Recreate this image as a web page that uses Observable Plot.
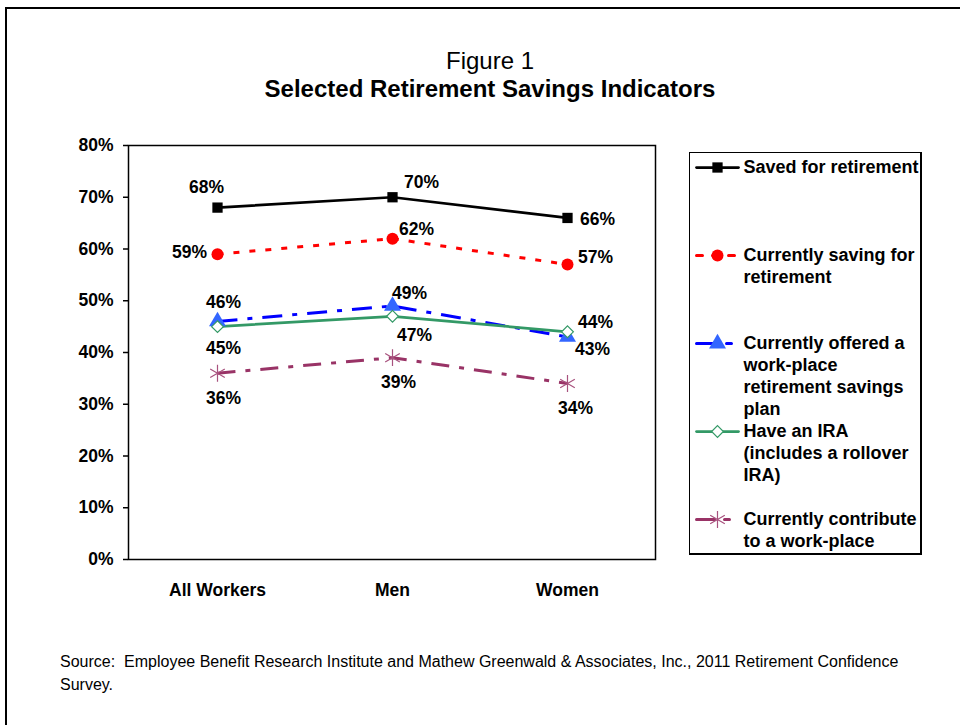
<!DOCTYPE html>
<html>
<head>
<meta charset="utf-8">
<script src="https://cdn.jsdelivr.net/npm/d3@7"></script>
<script src="https://cdn.jsdelivr.net/npm/@observablehq/plot@0.6"></script>
<style>
  html, body { margin: 0; padding: 0; background: #fff; }
  #page { position: relative; width: 960px; height: 725px; overflow: hidden; background: #fff;
          font-family: "Liberation Sans", Arial, sans-serif; color: #000; }
  #border { position: absolute; left: 5px; top: 7px; width: 1000px; height: 800px;
            border-left: 2px solid #000; border-top: 2px solid #000; }
  .title { position: absolute; left: 0; width: 980px; text-align: center; font-size: 24px; line-height: 24px; }
  #t1 { top: 49px; }
  #t2 { top: 77px; font-weight: bold; }
  #source { position: absolute; left: 60px; top: 650px; width: 850px; font-size: 16px; line-height: 23px; }
  #chart { position: absolute; left: 0; top: 0; }
  #legend { position: absolute; left: 689px; top: 152px; width: 233px; height: 403px; box-sizing: border-box;
            border: 1px solid #000; border-right-width: 2px; border-bottom-width: 2px; overflow: hidden; background: #fff; }
</style>
</head>
<body>
<div id="page">
  <div id="border"></div>
  <div class="title" id="t1">Figure 1</div>
  <div class="title" id="t2">Selected Retirement Savings Indicators</div>
  <div id="chart"></div>
  <div id="legend"></div>
  <div id="source">Source:&nbsp; Employee Benefit Research Institute and Mathew Greenwald &amp; Associates, Inc., 2011 Retirement Confidence Survey.</div>
</div>
<script>
// ---- Data ----
const categories = ["All Workers", "Men", "Women"];
const seriesNames = [
  "Saved for retirement",
  "Currently saving for retirement",
  "Currently offered a work-place retirement savings plan",
  "Have an IRA (includes a rollover IRA)",
  "Currently contribute to a work-place retirement savings plan"
];
const savedForRetirement = [68, 70, 66];
const currentlySaving = [59, 62, 57];
const currentlyOffered = [46, 49, 43];
const haveIRA = [45, 47, 44];
const currentlyContribute = [36, 39, 34];
const yTicks = [0, 10, 20, 30, 40, 50, 60, 70, 80];
const legendLines = [
  ["Saved for retirement"],
  ["Currently saving for", "retirement"],
  ["Currently offered a", "work-place", "retirement savings", "plan"],
  ["Have an IRA", "(includes a rollover", "IRA)"],
  ["Currently contribute", "to a work-place"]
];

// ---- Styles (separate from data) ----
const seriesStyles = [
  {color: "#000000", width: 2.75, dash: null, symbol: "square", fill: "#000000", mstroke: "none", r: 5.8, mw: 1},
  {color: "#FF0000", width: 3, dash: "6,10", symbol: "circle", fill: "#FF0000", mstroke: "none", r: 6, mw: 1},
  {color: "#0000FF", width: 3, dash: "20,10,5,10", symbol: "triangle", fill: "#3366FF", mstroke: "none", r: 6.3, mw: 1},
  {color: "#339966", width: 2.75, dash: null, symbol: "diamond2", fill: "#FFFFFF", mstroke: "#339966", r: 5.3, mw: 1.2},
  {color: "#993366", width: 3, dash: "18,10,5,10", symbol: "asterisk", fill: "none", mstroke: "#A8527E", r: 8, mw: 1.2}
];
// label offsets [dx, dy] per series per category
const labelOffsets = [
  [[-11, -20], [29, -15], [30, 1]],
  [[-28, -2], [24, -9], [28, -7]],
  [[6, -19], [17, -13], [25, 12]],
  [[6, 22], [22, 19], [28, -9]],
  [[6, 25], [6, 25], [8, 25]]
];

const seriesValues = [savedForRetirement, currentlySaving, currentlyOffered, haveIRA, currentlyContribute];
const rows = [];
seriesValues.forEach((vals, s) => vals.forEach((v, c) =>
  rows.push({series: seriesNames[s], s, cat: categories[c], c, v})));

const FONT = '"Liberation Sans", Arial, sans-serif';

const marks = [
  Plot.frame({stroke: "#000", strokeWidth: 1.5}),
  Plot.axisY({ticks: yTicks, tickSize: 5, tickPadding: 10, tickFormat: d => d + "%",
              fontSize: 17.5, fontWeight: "bold", label: null, strokeWidth: 1.5}),
  Plot.axisX({tickSize: 0, tickPadding: 24, fontSize: 17.5, fontWeight: "bold", label: null})
];
seriesStyles.forEach((st, i) => {
  const d = rows.filter(r => r.s === i);
  marks.push(Plot.line(d, {x: "cat", y: "v", stroke: st.color, strokeWidth: st.width,
                           strokeDasharray: st.dash, strokeLinecap: "butt"}));
});
seriesStyles.forEach((st, i) => {
  const d = rows.filter(r => r.s === i);
  marks.push(Plot.dot(d, {x: "cat", y: "v", symbol: st.symbol, r: st.r, fill: st.fill,
                          stroke: st.mstroke, strokeWidth: st.mw}));
});
rows.forEach(r => {
  const [dx, dy] = labelOffsets[r.s][r.c];
  marks.push(Plot.text([r], {x: "cat", y: "v", text: d => d.v + "%", dx, dy,
                             fontSize: 17.5, fontWeight: "bold", textAnchor: "middle", lineAnchor: "middle", fill: "#000"}));
});

const chart = Plot.plot({
  width: 960, height: 725,
  marginLeft: 128, marginRight: 305, marginTop: 145, marginBottom: 166,
  x: {type: "point", domain: categories, padding: 0.5},
  y: {domain: [0, 80]},
  style: {fontFamily: FONT, color: "#000", background: "transparent", overflow: "visible"},
  marks
});
document.getElementById("chart").appendChild(chart);

// ---- Legend ----
const entryTop = 14, entryStep = 88, lineStep = 22;
const legendMarks = [];
seriesStyles.forEach((st, i) => {
  const y = entryTop + entryStep * i;
  legendMarks.push(Plot.line([{x: 6, y}, {x: 48, y}], {x: "x", y: "y", stroke: st.color, strokeWidth: st.width,
                                                      strokeDasharray: st.dash}));
  legendMarks.push(Plot.dot([{x: 27, y}], {x: "x", y: "y", symbol: st.symbol, r: st.r, fill: st.fill,
                                          stroke: st.mstroke, strokeWidth: st.mw}));
});
const legendText = [];
legendLines.forEach((lines, i) => lines.forEach((t, j) =>
  legendText.push({t, x: 53, y: entryTop + entryStep * i + lineStep * j})));
legendMarks.push(Plot.text(legendText, {x: "x", y: "y", text: "t", textAnchor: "start", lineAnchor: "middle",
                                        fontSize: 18, fontWeight: "bold", fill: "#000"}));
const legend = Plot.plot({
  width: 230, height: 400, margin: 0,
  x: {type: "identity", axis: null}, y: {type: "identity", axis: null},
  style: {fontFamily: FONT, color: "#000", background: "transparent"},
  marks: legendMarks
});
document.getElementById("legend").appendChild(legend);
</script>
</body>
</html>
